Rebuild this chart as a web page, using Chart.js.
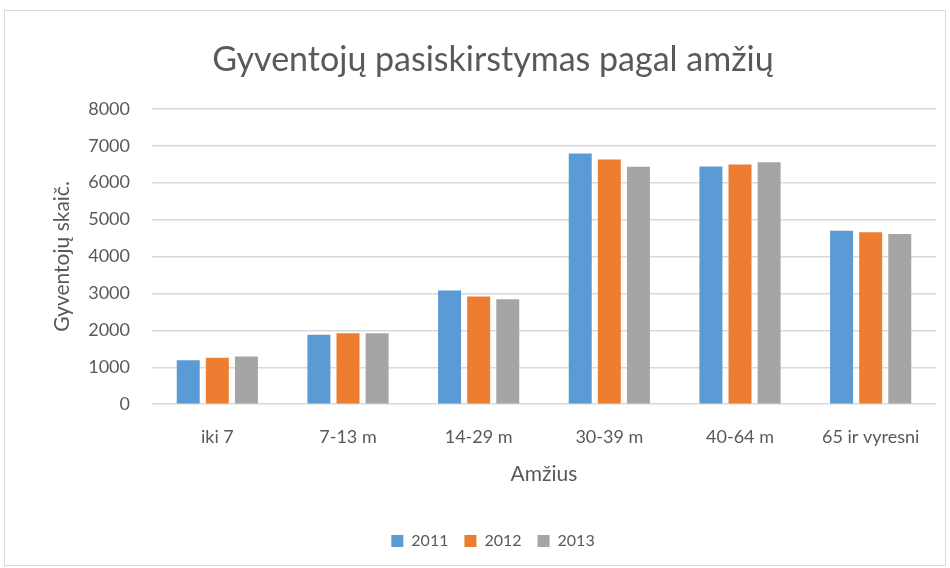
<!DOCTYPE html>
<html>
<head>
<meta charset="utf-8">
<script src="https://cdn.jsdelivr.net/npm/chart.js@4.4.1/dist/chart.umd.min.js"></script>
<style>
  body { margin: 0; background: #fff; }
  #wrap { width: 950px; height: 568px; }
</style>
</head>
<body>
<div id="wrap"><canvas id="c" width="950" height="568"></canvas></div>
<script>
const categories = ['iki 7', '7-13 m', '14-29 m', '30-39 m', '40-64 m', '65 ir vyresni'];
const years = ['2011', '2012', '2013'];
const values2011 = [1190, 1880, 3080, 6790, 6440, 4700];
const values2012 = [1255, 1920, 2920, 6630, 6490, 4655];
const values2013 = [1290, 1920, 2840, 6430, 6550, 4610];
const colors = ['#5b9bd5', '#ed7d31', '#a5a5a5'];

const fontFam = 'Lato, "Open Sans", sans-serif';
const textColor = '#595959';

// outer chart border like the office chart frame
const frame = {
  id: 'frame',
  beforeDraw(chart) {
    const ctx = chart.ctx;
    ctx.save();
    ctx.fillStyle = '#fff';
    ctx.fillRect(0, 0, chart.width, chart.height);
    ctx.strokeStyle = '#d9d9d9';
    ctx.lineWidth = 1;
    ctx.strokeRect(4.5, 10.5, 941, 555);
    ctx.restore();
  }
};

new Chart(document.getElementById('c'), {
  type: 'bar',
  data: {
    labels: categories,
    datasets: [values2011, values2012, values2013].map((v, i) => ({
      label: years[i],
      data: v,
      backgroundColor: colors[i],
      borderWidth: 0,
      categoryPercentage: 0.668,
      barPercentage: 0.79
    }))
  },
  options: {
    responsive: false,
    animation: false,
    layout: { padding: { left: 50, right: 14, top: 40, bottom: 9 } },
    plugins: {
      title: {
        display: true,
        text: 'Gyventojų pasiskirstymas pagal amžių',
        color: textColor,
        font: { family: fontFam, size: 34, weight: 'normal' },
        padding: { top: 0, bottom: 28 }
      },
      legend: {
        position: 'bottom',
        labels: {
          color: textColor,
          font: { family: fontFam, size: 16 },
          boxWidth: 12,
          boxHeight: 12,
          padding: 16
        }
      },
      tooltip: { enabled: false }
    },
    scales: {
      x: {
        grid: { display: false },
        border: { display: false },
        ticks: { color: textColor, font: { family: fontFam, size: 18 }, padding: 14 },
        title: {
          display: true,
          text: 'Amžius',
          color: textColor,
          font: { family: fontFam, size: 21 },
          padding: { top: 0, bottom: 30 }
        }
      },
      y: {
        min: 0,
        max: 8000,
        afterFit(scale) { scale.width = 102; },
        ticks: {
          stepSize: 1000,
          color: textColor,
          font: { family: fontFam, size: 18 },
          padding: 22,
          callback: v => String(v)
        },
        grid: { color: '#d9d9d9', lineWidth: 1.5, drawTicks: false },
        border: { display: false },
        title: {
          display: true,
          text: 'Gyventojų skaič.',
          color: textColor,
          font: { family: fontFam, size: 21 },
          padding: { top: 0, bottom: 4 }
        }
      }
    }
  },
  plugins: [frame]
});
</script>
</body>
</html>
